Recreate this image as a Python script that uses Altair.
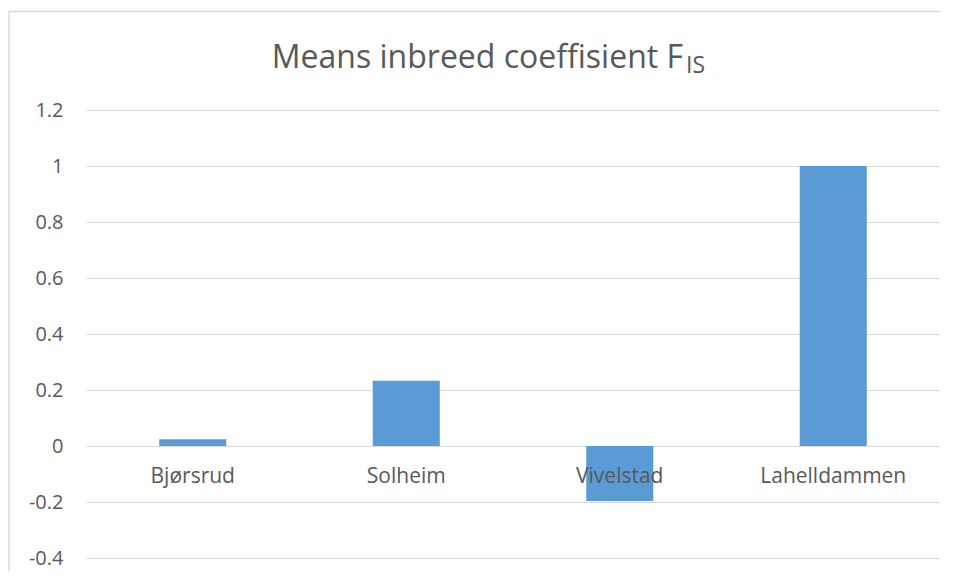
import altair as alt
import pandas as pd

categories = ["Bjørsrud", "Solheim", "Vivelstad", "Lahelldammen"]
values = [0.024, 0.233, -0.196, 1.0]
y_ticks = [-0.4, -0.2, 0, 0.2, 0.4, 0.6, 0.8, 1.0, 1.2]
title_main = "Means inbreed coeffisient F"
title_sub = "IS"

df = pd.DataFrame({"site": categories, "fis": values})
one = pd.DataFrame({"k": [0]})

FONT = "Open Sans"
GREY = "#595959"
GRID = "#d9d9d9"

xscale = alt.Scale(paddingInner=0.686, paddingOuter=0.343)
yscale = alt.Scale(domain=[-0.4, 1.2], nice=False, zero=False)

bars = alt.Chart(df).mark_bar(color="#5b9bd5").encode(
    x=alt.X("site:N", sort=categories, scale=xscale, axis=None),
    y=alt.Y("fis:Q", scale=yscale,
            axis=alt.Axis(values=y_ticks, grid=True, gridColor=GRID, gridWidth=1,
                          domain=False, ticks=False, labelPadding=23,
                          labelFontSize=20, labelFont=FONT, labelColor=GREY,
                          labelExpr="replace(format(datum.value, '~g'), '\u2212', '-')",
                          title=None)),
)

labels = alt.Chart(df).mark_text(dy=37, baseline="alphabetic", align="center",
                                 font=FONT, fontSize=21, color=GREY).encode(
    x=alt.X("site:N", sort=categories, scale=xscale, axis=None),
    y=alt.datum(0),
    text="site:N",
)

border_top = alt.Chart(one).mark_rule(stroke=GRID, strokeWidth=1.5).encode(
    x=alt.value(-77), x2=alt.value(870), y=alt.value(-98.5)
)
border_left = alt.Chart(one).mark_rule(stroke=GRID, strokeWidth=1.5).encode(
    x=alt.value(-77), y=alt.value(-98.5), y2=alt.value(480)
)

t_main = alt.Chart(one).mark_text(text=title_main, align="right", baseline="alphabetic",
                                  font=FONT, fontSize=32, color=GREY).encode(
    x=alt.value(597), y=alt.value(-42)
)
t_sub = alt.Chart(one).mark_text(text=title_sub, align="left", baseline="alphabetic",
                                 font=FONT, fontSize=23, color=GREY).encode(
    x=alt.value(600), y=alt.value(-37)
)

chart = alt.layer(border_top, border_left, bars, labels, t_main, t_sub).properties(
    width=854, height=448,
    autosize=alt.AutoSizeParams(type="none"),
    padding={"left": 78, "top": 102, "right": 0, "bottom": 13},
).configure_view(strokeWidth=0, strokeOpacity=0)

chart.save("out.html", embed_options={"renderer": "svg", "actions": False})
